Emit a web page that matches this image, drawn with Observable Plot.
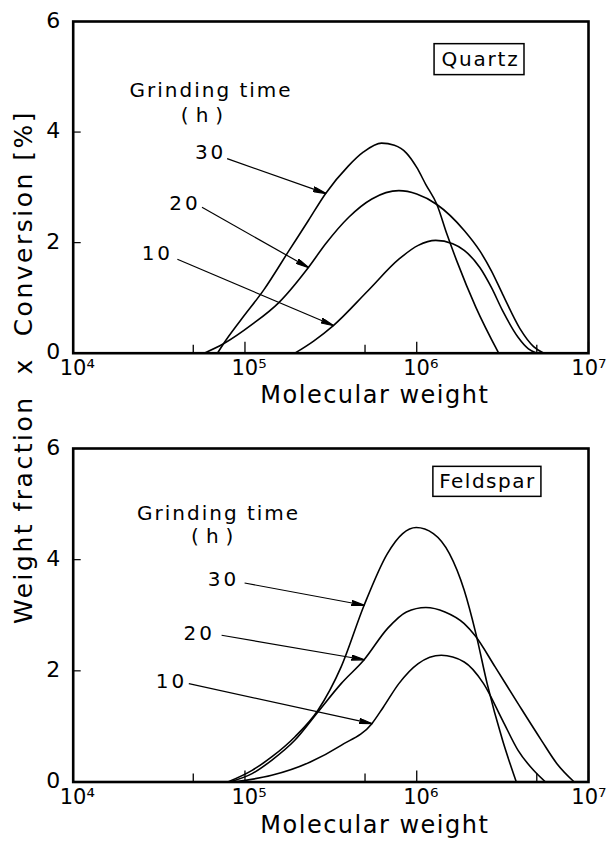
<!DOCTYPE html>
<html>
<head>
<meta charset="utf-8">
<script src="https://cdn.jsdelivr.net/npm/d3@7"></script>
<script src="https://cdn.jsdelivr.net/npm/@observablehq/plot@0.6"></script>
<style>
  body { margin: 0; background: #fff; }
  #wrap { position: relative; width: 608px; height: 845px; overflow: hidden; font-family: "DejaVu Sans", sans-serif; background: #fff; }
  #top, #bot { position: absolute; left: 0; }
  #top { top: 0; }
  #bot { top: 420px; }
  #top svg, #bot svg { overflow: visible; display: block; }
  #ylab { position: absolute; left: -276px; top: 352px; width: 600px; height: 30px; line-height: 30px;
          text-align: center; transform: rotate(-90deg); font-size: 25px; letter-spacing: 2.5px;
          white-space: pre; color: #000; }
</style>
</head>
<body>
<div id="wrap"><div id="top"></div><div id="bot"></div><div id="ylab"></div></div>
<script>
// ---------- data ----------
const yAxisLabel = "Weight fraction  x  Conversion [%]";
const xAxisLabel = "Molecular weight";
const yTicks = [0, 2, 4, 6];
const yInnerTicks = [2, 4];
const xMajorTicks = [1e4, 1e5, 1e6, 1e7];
const xTickLabels = ["10⁴", "10⁵", "10⁶", "10⁷"];
const xMinorTicks = [5e4, 5e5, 5e6];
const legendTitle = "Grinding time";
const legendUnit = "(h)";
const grindTimes = ["30", "20", "10"];

// Quartz
const quartz30M = [6.92e4, 7.50e4, 9.46e4, 1.29e5, 1.80e5, 2.34e5, 2.95e5, 3.98e5, 4.90e5, 6.24e5, 7.41e5, 8.71e5, 1.00e6, 1.13e6, 1.31e6, 1.50e6, 1.71e6, 2.21e6, 3.00e6];
const quartz30V = [0, 0.17, 0.60, 1.15, 1.85, 2.40, 2.89, 3.38, 3.64, 3.80, 3.76, 3.62, 3.36, 3.05, 2.69, 2.15, 1.67, 0.83, 0];
const quartz20M = [5.79e4, 7.50e4, 1.10e5, 1.58e5, 2.34e5, 2.95e5, 4.02e5, 5.48e5, 7.87e5, 1.00e6, 1.31e6, 1.89e6, 2.33e6, 2.72e6, 3.16e6, 3.98e6, 4.79e6, 5.50e6];
const quartz20V = [0, 0.17, 0.52, 0.92, 1.55, 1.98, 2.46, 2.79, 2.94, 2.88, 2.69, 2.22, 1.85, 1.49, 1.07, 0.45, 0.12, 0];
const quartz10M = [1.95e5, 2.51e5, 3.27e5, 5.20e5, 7.87e5, 1.02e6, 1.29e6, 1.62e6, 1.89e6, 2.33e6, 2.72e6, 3.16e6, 3.89e6, 4.47e6, 5.01e6];
const quartz10V = [0, 0.22, 0.50, 1.13, 1.70, 1.95, 2.04, 1.98, 1.86, 1.55, 1.19, 0.77, 0.29, 0.08, 0];

// Feldspar
const feld30M = [7.94e4, 1.10e5, 1.43e5, 1.95e5, 2.66e5, 3.63e5, 4.94e5, 6.75e5, 8.28e5, 9.93e5, 1.25e6, 1.55e6, 1.89e6, 2.21e6, 2.57e6, 3.16e6, 3.80e6];
const feld30V = [0, 0.21, 0.45, 0.81, 1.29, 2.07, 3.18, 4.11, 4.47, 4.58, 4.47, 4.11, 3.45, 2.67, 1.77, 0.75, 0];
const feld20M = [8.13e4, 1.10e5, 1.43e5, 1.95e5, 2.66e5, 3.63e5, 4.94e5, 6.75e5, 8.71e5, 1.13e6, 1.46e6, 1.89e6, 2.19e6, 2.86e6, 3.89e6, 5.32e6, 6.55e6, 8.26e6];
const feld20V = [0, 0.15, 0.39, 0.75, 1.26, 1.77, 2.20, 2.76, 3.06, 3.14, 3.06, 2.85, 2.63, 2.07, 1.41, 0.75, 0.33, 0];
const feld10M = [8.51e4, 1.43e5, 2.40e5, 3.63e5, 5.48e5, 6.40e5, 7.87e5, 1.02e6, 1.39e6, 1.89e6, 2.45e6, 3.16e6, 3.89e6, 4.79e6, 5.62e6];
const feld10V = [0, 0.12, 0.36, 0.66, 1.05, 1.35, 1.77, 2.13, 2.28, 2.16, 1.77, 1.11, 0.57, 0.21, 0];

// annotation anchors (data coordinates): [M, value]
const quartzTitlePos = [6.35e4, 4.75];
const quartzUnitPos = [5.89e4, 4.30];
const quartzLabelPos = [[6.31e4, 3.63], [4.47e4, 2.70], [3.09e4, 1.80]];
const quartzArrowFrom = [[7.87e4, 3.52], [5.62e4, 2.64], [4.04e4, 1.70]];
const quartzArrowTo = [[2.95e5, 2.89], [2.34e5, 1.55], [3.27e5, 0.50]];
const quartzBox = [1.27e6, 4.24e6, 5.03, 5.59];
const quartzName = "Quartz";
const quartzNamePos = [2.35e6, 5.31];

const feldTitlePos = [7.02e4, 4.83];
const feldUnitPos = [6.76e4, 4.41];
const feldLabelPos = [[7.50e4, 3.64], [5.42e4, 2.67], [3.73e4, 1.80]];
const feldArrowFrom = [[9.95e4, 3.58], [7.31e4, 2.64], [4.71e4, 1.77]];
const feldArrowTo = [[4.94e5, 3.18], [4.94e5, 2.20], [5.48e5, 1.05]];
const feldBox = [1.25e6, 5.32e6, 5.13, 5.67];
const feldName = "Feldspar";
const feldNamePos = [2.58e6, 5.40];

// ---------- drawing ----------
const NS = "http://www.w3.org/2000/svg";
function filledArrow(color) {
  const m = document.createElementNS(NS, "marker");
  m.setAttribute("viewBox", "-13 -3 14 6");
  m.setAttribute("markerWidth", 14);
  m.setAttribute("markerHeight", 6);
  m.setAttribute("markerUnits", "userSpaceOnUse");
  m.setAttribute("refX", 0);
  m.setAttribute("refY", 0);
  m.setAttribute("orient", "auto");
  const p = document.createElementNS(NS, "path");
  p.setAttribute("d", "M0.5,0L-13,-2.6L-11,0L-13,2.6Z");
  p.setAttribute("fill", color);
  m.appendChild(p);
  return m;
}

function rows(M, V, g) { return M.map((m, i) => ({M: m, v: V[i], g})); }

const letterSpacing = new Map([
  [xAxisLabel, "1.5px"], [quartzName, "1.8px"], [feldName, "1.5px"],
  [legendTitle, "2px"], [legendUnit, "7px"], ["30", "3px"], ["20", "3px"], ["10", "3px"]
]);

function panel(cfg, markerEnd) {
  const lineData = [
    ...rows(cfg.s30M, cfg.s30V, "30"),
    ...rows(cfg.s20M, cfg.s20V, "20"),
    ...rows(cfg.s10M, cfg.s10V, "10")
  ];
  const arrows = grindTimes.map((g, i) => ({
    x1: cfg.from[i][0], y1: cfg.from[i][1], x2: cfg.to[i][0], y2: cfg.to[i][1]
  }));
  const labels = grindTimes.map((g, i) => ({M: cfg.labelPos[i][0], v: cfg.labelPos[i][1], t: g}));
  const xLabs = xMajorTicks.map((m, i) => ({M: m, t: xTickLabels[i]}));
  const svg = Plot.plot({
    width: 608,
    height: cfg.height,
    marginLeft: 72.7,
    marginRight: 20,
    marginTop: cfg.marginTop,
    marginBottom: cfg.marginBottom,
    x: {type: "log", domain: [1e4, 1e7], axis: null},
    y: {domain: [0, 6], axis: null},
    style: {fontFamily: "DejaVu Sans, sans-serif", background: "white", color: "black"},
    marks: [
      Plot.line(lineData, {x: "M", y: "v", z: "g", curve: "monotone-x", stroke: "black", strokeWidth: 1.6}),
      Plot.link(arrows, {x1: "x1", y1: "y1", x2: "x2", y2: "y2", stroke: "black", strokeWidth: 1.2, markerEnd}),
      Plot.axisY({ticks: yInnerTicks, tickSize: -8, tickFormat: () => "", strokeWidth: 1.2}),
      Plot.axisX({ticks: xMajorTicks, tickSize: -11, tickFormat: () => "", strokeWidth: 1.3}),
      Plot.axisX({ticks: xMinorTicks, tickSize: -8, tickFormat: () => "", strokeWidth: 1.3}),
      Plot.frame({stroke: "black", strokeWidth: 2.6}),
      Plot.text(yTicks, {y: d => d, frameAnchor: "left", text: d => String(d), dx: -20, dy: -1, fontSize: 22, textAnchor: "middle", fill: "black"}),
      Plot.text(xLabs.slice(0, 3), {x: "M", frameAnchor: "bottom", text: "t", dx: -13.5, dy: 22, fontSize: 21, textAnchor: "start", fill: "black"}),
      Plot.text(xLabs.slice(3), {x: "M", frameAnchor: "bottom", text: "t", dx: 18, dy: 22, fontSize: 21, textAnchor: "end", fill: "black"}),
      Plot.text([xAxisLabel], {frameAnchor: "bottom", text: d => d, dx: 44, dy: cfg.xlabelDy, fontSize: 24, fill: "black"}),
      Plot.rect([cfg.box], {x1: d => d[0], x2: d => d[1], y1: d => d[2], y2: d => d[3], fill: "white", stroke: "black", strokeWidth: 1.5}),
      Plot.text([cfg.name], {x: () => cfg.namePos[0], y: () => cfg.namePos[1], text: d => d, fontSize: 20, fill: "black"}),
      Plot.text([legendTitle], {x: () => cfg.titlePos[0], y: () => cfg.titlePos[1], text: d => d, fontSize: 20, fill: "black"}),
      Plot.text([legendUnit], {x: () => cfg.unitPos[0], y: () => cfg.unitPos[1], text: d => d, fontSize: 20, fill: "black"}),
      Plot.text(labels, {x: "M", y: "v", text: "t", fontSize: 20, fill: "black"})
    ]
  });
  svg.querySelectorAll("text").forEach(t => {
    const s = letterSpacing.get(t.textContent);
    if (s) t.setAttribute("letter-spacing", s);
  });
  return svg;
}

const quartzCfg = {
  s30M: quartz30M, s30V: quartz30V, s20M: quartz20M, s20V: quartz20V, s10M: quartz10M, s10V: quartz10V,
  from: quartzArrowFrom, to: quartzArrowTo, labelPos: quartzLabelPos,
  box: quartzBox, name: quartzName, namePos: quartzNamePos, titlePos: quartzTitlePos, unitPos: quartzUnitPos,
  height: 420, marginTop: 21, marginBottom: 67.3, xlabelDy: 50
};
const feldCfg = {
  s30M: feld30M, s30V: feld30V, s20M: feld20M, s20V: feld20V, s10M: feld10M, s10V: feld10V,
  from: feldArrowFrom, to: feldArrowTo, labelPos: feldLabelPos,
  box: feldBox, name: feldName, namePos: feldNamePos, titlePos: feldTitlePos, unitPos: feldUnitPos,
  height: 425, marginTop: 28, marginBottom: 63.5, xlabelDy: 50.5
};

function build(marker) {
  document.getElementById("top").replaceChildren(panel(quartzCfg, marker));
  document.getElementById("bot").replaceChildren(panel(feldCfg, marker));
}
try { build(filledArrow); } catch (e) { console.error(e); build("arrow"); }
document.getElementById("ylab").textContent = yAxisLabel;
</script>
</body>
</html>
